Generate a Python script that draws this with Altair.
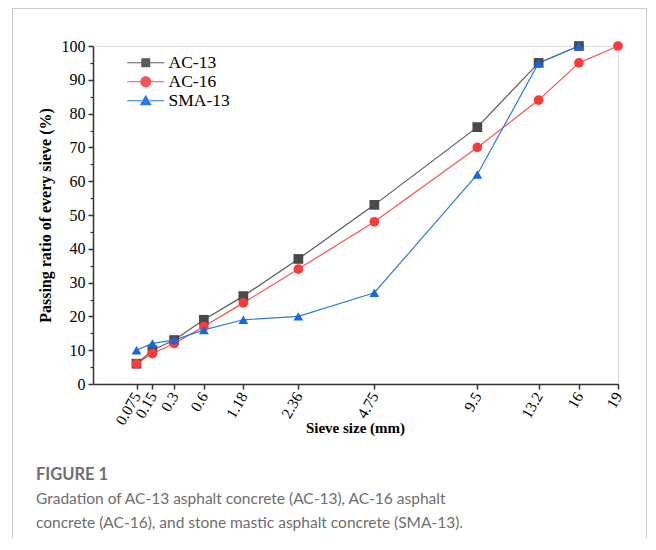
import altair as alt
import pandas as pd

# ---- data ----
sieve = [0.075, 0.15, 0.3, 0.6, 1.18, 2.36, 4.75, 9.5, 13.2, 16, 19]
ac13 = [6, 10, 13, 19, 26, 37, 53, 76, 95, 100, None]
ac16 = [6, 9, 12, 17, 24, 34, 48, 70, 84, 95, 100]
sma13 = [10, 12, 13, 16, 19, 20, 27, 62, 95, 100, None]
series = ["AC-13", "AC-16", "SMA-13"]
y_ticks = list(range(0, 101, 10))
y_minor = list(range(5, 100, 10))
caption_head = "FIGURE 1"
caption_lines = [
    "Gradation of AC-13 asphalt concrete (AC-13), AC-16 asphalt",
    "concrete (AC-16), and stone mastic asphalt concrete (SMA-13).",
]

# ---- styles ----
marker_colors = ["#4a4a4a", "#fb3b3b", "#1569e0"]
line_colors = ["#5a5a5a", "#ff5050", "#2a7ae6"]
shapes = ["square", "circle", "triangle-up"]
seg = "M-3.7,-0.12H-0.8V0.12H-3.7ZM0.8,-0.12H3.7V0.12H0.8Z"
legend_paths = [
    seg + "M-0.9,-0.9H0.9V0.9H-0.9Z",
    seg + "M-1.1,0A1.1,1.1,0,1,1,1.1,0A1.1,1.1,0,1,1,-1.1,0Z",
    seg + "M0,-1.2L1.2,0.9H-1.2Z",
]

rows = []
for name, vals in zip(series, [ac13, ac16, sma13]):
    for s, v in zip(sieve, vals):
        if v is not None:
            rows.append({"sieve": s, "pass": v, "series": name})
df = pd.DataFrame(rows)

serif = "Liberation Serif"
xscale = alt.Scale(type="pow", exponent=0.45, domain=[0, 19], nice=False, zero=True)
yscale = alt.Scale(domain=[0, 100], nice=False)

x_axis = alt.Axis(
    values=sieve, format=".4~g", grid=False, labelAngle=300, labelAlign="right",
    labelBaseline="middle",
    labelFont=serif, labelFontSize=15.5, labelColor="black", labelPadding=4,
    labelOverlap=False, labelFlush=False,
    tickSize=5, tickColor="#333", tickWidth=1.5, domainColor="#333", domainWidth=1.5,
    title="Sieve size (mm)", titleFont=serif, titleFontSize=15, titleFontWeight="bold",
    titleColor="black", titleX=262, titleY=48, titleBaseline="alphabetic", titleAlign="center",
)
y_axis = alt.Axis(
    values=y_ticks, grid=False, labelFont=serif, labelFontSize=16, labelColor="black",
    labelPadding=3, tickSize=5, tickColor="#333", tickWidth=1.5, domainColor="#333",
    domainWidth=1.5, orient="left",
    title="Passing ratio of every sieve (%)", titleFont=serif, titleFontSize=16,
    titleFontWeight="bold", titleColor="black", titleAngle=270, titleBaseline="middle",
    titleAlign="center", titleX=-48, titleY=169,
)
y_minor_axis = alt.Axis(
    values=y_minor, grid=False, labels=False, domain=False, tickSize=3,
    tickColor="#333", tickWidth=1.2, title=None, orient="left",
)

color_scale = alt.Scale(domain=series, range=line_colors)
mcolor_scale = alt.Scale(domain=series, range=marker_colors)

base = alt.Chart(df)

lines = base.mark_line(strokeWidth=1.2).encode(
    x=alt.X("sieve:Q", scale=xscale, axis=x_axis),
    y=alt.Y("pass:Q", scale=yscale, axis=y_axis),
    color=alt.Color("series:N", scale=color_scale, legend=None),
    detail="series:N",
)

points = base.mark_point(filled=True, opacity=1, size=95).encode(
    x=alt.X("sieve:Q", scale=xscale, axis=x_axis),
    y=alt.Y("pass:Q", scale=yscale, axis=None),
    fill=alt.Fill("series:N", scale=mcolor_scale, legend=None),
    shape=alt.Shape("series:N", scale=alt.Scale(domain=series, range=shapes), legend=None),
)

leg = alt.Legend(
    orient="none", legendX=44, legendY=8, title=None, labelFont=serif, labelFontSize=17.5,
    labelColor="black", symbolSize=100, symbolStrokeWidth=0, rowPadding=0,
    labelOffset=14, padding=0,
)

legend_layer = base.transform_filter("false").mark_point(filled=True, opacity=1, strokeWidth=0).encode(
    x=alt.X("sieve:Q", scale=xscale, axis=x_axis),
    y=alt.Y("pass:Q", scale=yscale, axis=y_minor_axis),
    color=alt.Color("series:N", scale=alt.Scale(domain=series, range=line_colors), legend=leg),
    shape=alt.Shape("series:N", scale=alt.Scale(domain=series, range=legend_paths), legend=leg),
)

one = alt.Data(values=[{"k": 1}])
frame_color = "#cccccc"
frame_left = alt.Chart(one).mark_rule(color=frame_color, strokeWidth=1).encode(
    x=alt.value(-80.5), y=alt.value(-38), y2=alt.value(520))
frame_right = alt.Chart(one).mark_rule(color=frame_color, strokeWidth=1).encode(
    x=alt.value(553.5), y=alt.value(-38), y2=alt.value(520))
frame_top = alt.Chart(one).mark_rule(color=frame_color, strokeWidth=1).encode(
    x=alt.value(-80.5), x2=alt.value(553.5), y=alt.value(-37.5))

cap_font = "Lato"
cap_color = "#6e6e6e"
cap_size = 15.5
head = alt.Chart(one).mark_text(font=cap_font, fontSize=cap_size + 1, fontWeight="bold", color=cap_color,
                                align="left", baseline="alphabetic").encode(
    x=alt.value(-57), y=alt.value(434), text=alt.value(caption_head))
cap1 = alt.Chart(one).mark_text(font=cap_font, fontSize=cap_size, color=cap_color,
                                align="left", baseline="alphabetic").encode(
    x=alt.value(-57), y=alt.value(458), text=alt.value(caption_lines[0]))
cap2 = alt.Chart(one).mark_text(font=cap_font, fontSize=cap_size, color=cap_color,
                                align="left", baseline="alphabetic").encode(
    x=alt.value(-57), y=alt.value(482), text=alt.value(caption_lines[1]))

chart = alt.layer(
    lines, points, legend_layer, frame_left, frame_right, frame_top, head, cap1, cap2
).resolve_scale(
    shape="independent", fill="independent", color="independent"
).resolve_axis(
    y="independent"
).properties(
    width=525, height=338,
    autosize=alt.AutoSizeParams(type="none"),
    padding={"left": 85, "top": 38, "right": 29, "bottom": 154},
).configure_view(stroke=None).configure(background="white")

chart.save("out.html", embed_options={"renderer": "svg", "actions": False})
